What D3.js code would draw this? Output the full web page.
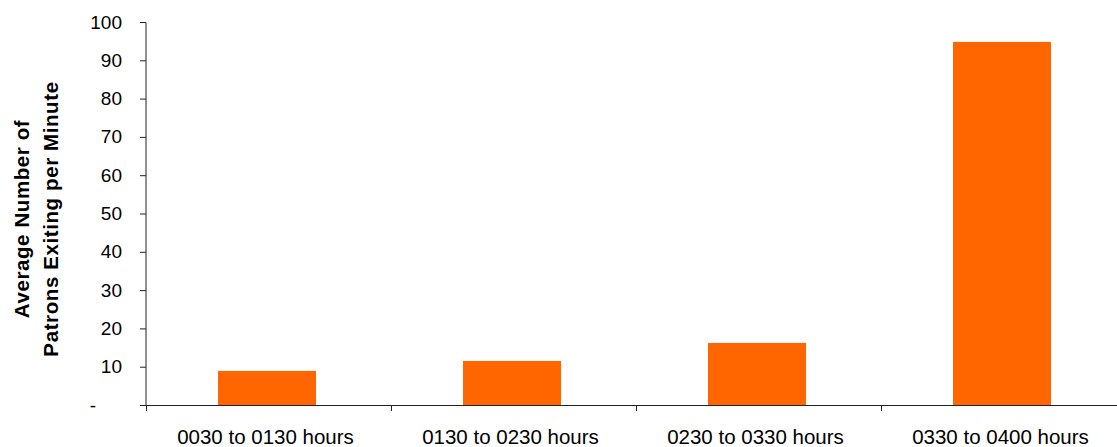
<!DOCTYPE html>
<html>
<head>
<meta charset="utf-8">
<script src="https://cdn.jsdelivr.net/npm/d3@7"></script>
<style>
  body { margin: 0; background: #fff; }
  text { font-family: "Liberation Sans", Arial, sans-serif; fill: #000; }
</style>
</head>
<body>
<script>
var categories = ["0030 to 0130 hours", "0130 to 0230 hours", "0230 to 0330 hours", "0330 to 0400 hours"];
var values = [8.9, 11.5, 16.2, 94.8];
var yTicks = [0, 10, 20, 30, 40, 50, 60, 70, 80, 90, 100];

var svg = d3.select("body")
    .append("svg")
    .attr("width", 1117)
    .attr("height", 447);

var x = d3.scaleBand()
    .domain(categories)
    .range([146, 1126])
    .paddingInner(0.6)
    .paddingOuter(0.3);

var y = d3.scaleLinear()
    .domain([0, 100])
    .range([405, 22]);

// bars
svg.selectAll(".bar")
    .data(values)
    .enter()
    .append("rect")
    .attr("class", "bar")
    .attr("x", (d, i) => x(categories[i]) - 1.5)
    .attr("width", x.bandwidth())
    .attr("y", d => y(d))
    .attr("height", d => y(0) - y(d))
    .attr("fill", "#ff6600");

// y axis
var yAxis = svg.append("g")
    .attr("transform", "translate(146,0)")
    .call(d3.axisLeft(y)
        .tickValues(yTicks)
        .tickSize(6)
        .tickPadding(18)
        .tickFormat(d => d === 0 ? "-" : d));
yAxis.select(".domain").attr("stroke", "#222").attr("d", "M-6,22.5H0V405");
yAxis.selectAll("text").style("font-size", "19px").attr("font-family", null);
yAxis.selectAll("line").attr("stroke", "#222");
// accounting style dash for zero
yAxis.selectAll(".tick").filter(d => d === 0).select("text")
    .attr("text-anchor", "middle")
    .attr("x", -53);

// x axis: ticks at category boundaries
var step = (1126 - 146) / categories.length;
svg.append("line")
    .attr("x1", 146).attr("x2", 1117)
    .attr("y1", 405.5).attr("y2", 405.5)
    .attr("stroke", "#222");
svg.selectAll(".xtick")
    .data(d3.range(categories.length))
    .enter()
    .append("line")
    .attr("x1", i => 146.5 + i * step)
    .attr("x2", i => 146.5 + i * step)
    .attr("y1", 405)
    .attr("y2", 411)
    .attr("stroke", "#222");

svg.selectAll(".xlabel")
    .data(categories)
    .enter()
    .append("text")
    .attr("x", d => 146 + (categories.indexOf(d) + 0.5) * step - 3)
    .attr("y", 444)
    .attr("text-anchor", "middle")
    .style("font-size", "20.5px")
    .text(d => d);

// y axis title
var title = svg.append("text")
    .attr("transform", "translate(0,219) rotate(-90)")
    .attr("text-anchor", "middle")
    .style("font-size", "20.5px")
    .style("letter-spacing", "0.6px")
    .style("font-weight", "bold");
title.append("tspan").attr("x", 0).attr("y", 28.5).text("Average Number of");
title.append("tspan").attr("x", 0).attr("y", 58).text("Patrons Exiting per Minute");
</script>
</body>
</html>
